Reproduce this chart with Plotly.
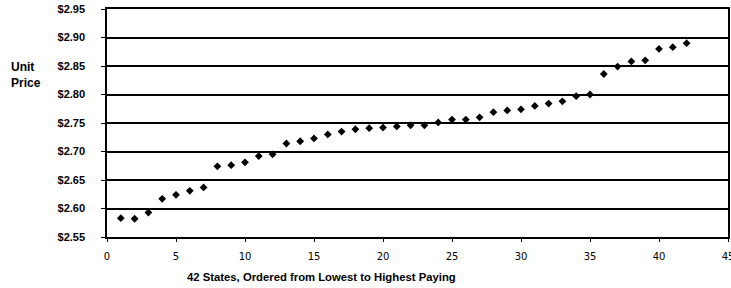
import plotly.graph_objects as go

states = list(range(1, 43))
unit_price = [2.583, 2.582, 2.593, 2.617, 2.624, 2.631, 2.637, 2.674, 2.676, 2.681,
              2.692, 2.695, 2.714, 2.718, 2.723, 2.730, 2.735, 2.739, 2.741, 2.742,
              2.744, 2.746, 2.746, 2.751, 2.756, 2.756, 2.760, 2.769, 2.772, 2.774,
              2.780, 2.784, 2.788, 2.797, 2.800, 2.836, 2.849, 2.858, 2.860, 2.880,
              2.883, 2.890]
y_ticks = [2.55, 2.60, 2.65, 2.70, 2.75, 2.80, 2.85, 2.90, 2.95]
y_tick_text = ["$2.55", "$2.60", "$2.65", "$2.70", "$2.75", "$2.80", "$2.85", "$2.90", "$2.95"]
x_ticks = [0, 5, 10, 15, 20, 25, 30, 35, 40, 45]

fig = go.Figure()
fig.add_trace(go.Scatter(
    x=states, y=unit_price, mode="markers",
    marker=dict(symbol="diamond", size=6, color="black"),
    hoverinfo="skip", showlegend=False,
))

fig.update_layout(
    width=731, height=288,
    margin=dict(l=107, r=3, t=9, b=51, autoexpand=False),
    paper_bgcolor="white", plot_bgcolor="white",
    font=dict(family="Liberation Sans, Arial, sans-serif", size=10, color="black"),
    xaxis=dict(
        range=[0, 45], tickvals=x_ticks, showgrid=False, zeroline=False,
        showline=True, linecolor="black", linewidth=1.5, mirror=True,
        ticks="outside", ticklen=3, tickcolor="black", automargin=False,
        tickfont=dict(size=10, family="DejaVu Sans, sans-serif"),
        ticklabelstandoff=6, ticklabeloverflow="allow",
    ),
    yaxis=dict(
        range=[2.55, 2.95], tickvals=y_ticks, ticktext=y_tick_text,
        showgrid=True, gridcolor="black", gridwidth=1.5, zeroline=False,
        showline=True, linecolor="black", linewidth=1.5, mirror=True,
        ticks="outside", ticklen=4, tickcolor="black", automargin=False,
        tickfont=dict(size=11, family="Liberation Sans, Arial, sans-serif", weight="bold"),
        ticklabelstandoff=14, ticklabeloverflow="allow",
    ),
    annotations=[
        dict(text="Unit<br>Price", xref="paper", yref="paper",
             x=(26 - 107) / 621, y=(237 - 75) / 228, showarrow=False,
             xanchor="center", yanchor="middle", align="left",
             font=dict(size=12, weight="bold")),
        dict(text="42 States, Ordered from Lowest to Highest Paying", xref="paper", yref="paper",
             x=(321 - 107) / 621, y=-(277 - 237) / 228, showarrow=False,
             xanchor="center", yanchor="middle",
             font=dict(size=11.3, weight="bold")),
    ],
)

fig.write_html("out.html", config={"displayModeBar": False},
               post_script="document.body.style.margin='0';document.body.style.overflow='hidden';")
